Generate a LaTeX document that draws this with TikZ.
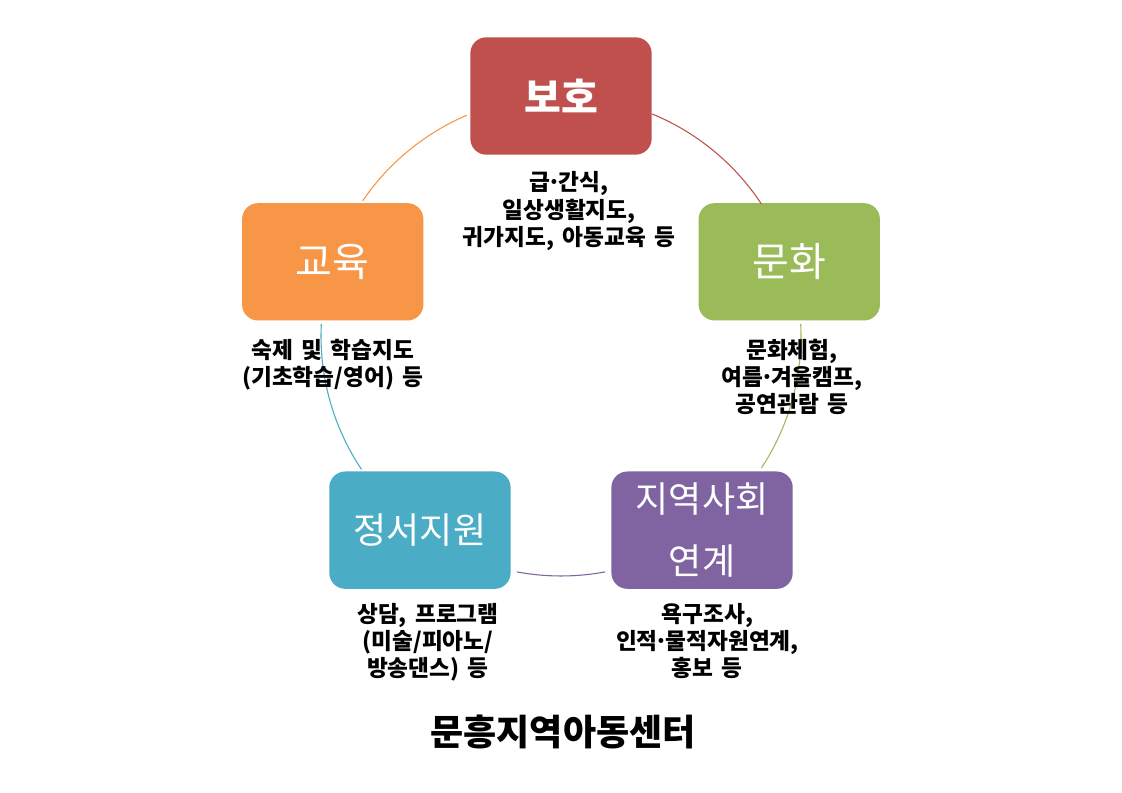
\documentclass[tikz,border=0pt]{standalone}
\usepackage{fontspec}
\setmainfont{Noto Sans CJK KR}[WordSpace=1.6]
\usepackage{tikz}
\usetikzlibrary{calc,positioning}
\definecolor{brick}{HTML}{C0504D}
\definecolor{leaf}{HTML}{9BBB59}
\definecolor{plum}{HTML}{8064A2}
\definecolor{sky}{HTML}{4BACC6}
\definecolor{amber}{HTML}{F79646}
\newcommand\middot{\kern-.13em·\kern-.13em}
\tikzset{
  box/.style={rounded corners=12pt, minimum width=136pt, minimum height=88pt,
    inner sep=2pt, text=white, align=center},
  lab/.style={font=\fontsize{27}{46}\selectfont},
  labL/.style={font=\fontsize{30}{34}\selectfont},
  ring/.style={line width=0.8pt},
  note/.style={font=\bfseries\fontsize{17}{20.5}\selectfont, align=center, text=black},
  head/.style={font=\bfseries\fontsize{27}{32}\selectfont, text=black}
}

\begin{document}
\begin{tikzpicture}[x=0.75pt, y=0.75pt]
  \fill[white] (0,0) rectangle (1122,793);
  \coordinate (hub) at (561,457);

  % boxes on the ring
  \node[box, fill=brick, font=\bfseries\fontsize{30}{34}\selectfont] (boho) at ($(hub)+(90:240)$) {보호};
  \node[box, fill=leaf, labL] (munhwa) at ($(hub)+(18:240)$) {문화};
  \node[box, fill=plum, lab] (yeongye) at ($(hub)+(-54:240)$) {지역사회\\연계};
  \node[box, fill=sky, lab] (jeongseo) at ($(hub)+(-126:240)$) {정서지원};
  \node[box, fill=amber, labL] (gyoyuk) at ($(hub)+(162:240)$) {교육};

  % ring arcs
  \draw[ring, draw=brick] (hub) ++(67.7:240) arc[start angle=67.7, end angle=33.4, radius=240];
  \draw[ring, draw=leaf] (hub) ++(2.9:240) arc[start angle=2.9, end angle=-33.4, radius=240];
  \draw[ring, draw=plum] (hub) ++(-79.4:240) arc[start angle=-79.4, end angle=-100.6, radius=240];
  \draw[ring, draw=sky] (hub) ++(213.8:240) arc[start angle=213.8, end angle=177.1, radius=240];
  \draw[ring, draw=amber] (hub) ++(145.7:240) arc[start angle=145.7, end angle=113.1, radius=240];

  % notes
  \node[note, below=9pt of boho, xshift=6pt] (bohoTxt) {급\middot 간식,\\일상생활지도,\\귀가지도, 아동교육 등};
  \node[note, below=10pt of munhwa, xshift=2pt] (munhwaTxt) {문화체험,\\여름\middot 겨울캠프,\\공연관람 등};
  \node[note, below=10pt of gyoyuk] (gyoyukTxt) {숙제 및 학습지도\\(기초학습/영어) 등};
  \node[note, below=7pt of jeongseo, xshift=6pt] (jeongseoTxt) {상담, 프로그램\\(미술/피아노/\\방송댄스) 등};
  \node[note, below=7pt of yeongye, xshift=4pt] (yeongyeTxt) {욕구조사,\\인적\middot 물적자원연계,\\홍보 등};

  \node[head] (centre) at (563,61) {문흥지역아동센터};
\end{tikzpicture}
\end{document}
